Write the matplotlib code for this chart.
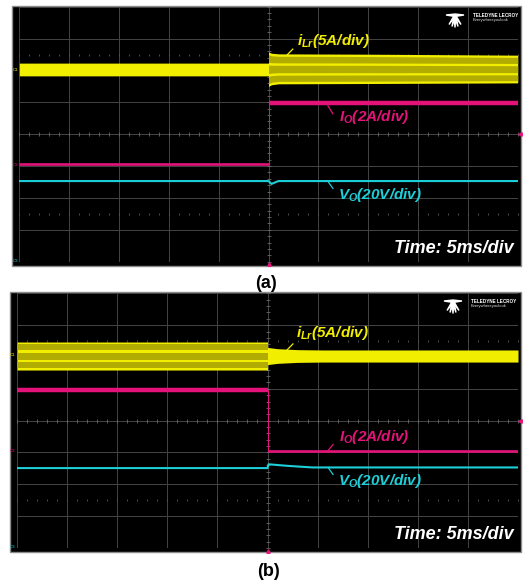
import matplotlib
matplotlib.use("Agg")
import matplotlib.pyplot as plt
from matplotlib.patches import Rectangle, Polygon
import numpy as np

plt.rcParams['font.family'] = ['Liberation Sans', 'DejaVu Sans']
plt.rcParams['mathtext.fontset'] = 'custom'
plt.rcParams['mathtext.it'] = 'Liberation Sans:italic:bold'
plt.rcParams['mathtext.rm'] = 'Liberation Sans:bold:italic'
plt.rcParams['mathtext.bf'] = 'Liberation Sans:bold:italic'

# ---------------- data (time in ms, amplitude in screen divisions) -------------
time_per_div = 5          # ms/div
n_xdiv = 10
n_ydiv = 8
step_time = 25.0          # load step instant (ms)

panel_labels = ["(a)", "(b)"]
label_ilr = r"$i_{Lr}$(5A/div)"
label_io = r"$I_O$(2A/div)"
label_vo = r"$V_O$(20V/div)"
time_label = "Time: 5ms/div"

# Panel (a): light -> heavy load
a_ilr_t = [0.0, 25.0, 25.0, 25.3, 26.0, 35.0, 50.0]
a_ilr_top = [2.23, 2.23, 2.58, 2.54, 2.52, 2.51, 2.48]
a_ilr_bot = [1.83, 1.83, 1.50, 1.55, 1.58, 1.59, 1.61]
a_io_t = [0.0, 25.0, 25.0, 50.0]
a_io_v = [-0.92, -0.92, 0.97, 0.97]
a_vo_t = [0.0, 25.0, 25.3, 26.0, 50.0]
a_vo_v = [-1.47, -1.47, -1.56, -1.47, -1.47]

# Panel (b): heavy -> light load
b_ilr_t = [0.0, 25.0, 25.0, 26.0, 28.0, 30.5, 50.0]
b_ilr_top = [2.47, 2.47, 2.30, 2.26, 2.23, 2.22, 2.22]
b_ilr_bot = [1.59, 1.59, 1.76, 1.80, 1.83, 1.84, 1.84]
b_io_t = [0.0, 25.0, 25.0, 50.0]
b_io_v = [0.97, 0.97, -0.94, -0.94]
b_vo_t = [0.0, 25.0, 25.1, 27.0, 29.5, 50.0]
b_vo_v = [-1.49, -1.49, -1.37, -1.42, -1.47, -1.47]

# ---------------- styling -------------
W, H = 528, 581
YEL = '#f2ee00'
OLIVE = '#b2ac00'
MAG = '#e5127a'
CYAN = '#1ccfd8'
GRID = '#454545'

fig = plt.figure(figsize=(W / 100, H / 100), dpi=100)
fig.patch.set_facecolor('white')


def fx(x):
    return x / W


def fy(y):
    return 1 - y / H


def pxrect(x0, y0, x1, y1):
    return [fx(x0), fy(y1), (x1 - x0) / W, (y1 - y0) / H]


def draw_logo(x0, y0):
    # small Teledyne LeCroy badge (decoration), x0,y0 = top-left in pixels
    tr = fig.transFigure
    bar = [(x0, y0 + 4), (x0 + 9, y0 + 3), (x0 + 18, y0 + 4), (x0 + 9, y0 + 5.5)]
    fig.patches.append(Polygon([(fx(a), fy(b)) for a, b in bar], closed=True,
                               transform=tr, color='white', zorder=5))
    cx, cy = x0 + 9, y0 + 4.5
    for ex, ey in [(-6, 9), (-3, 11), (0, 12), (3, 11), (6, 9)]:
        tri = [(cx - 0.9, cy), (cx + 0.9, cy), (cx + ex, cy + ey)]
        fig.patches.append(Polygon([(fx(a), fy(b)) for a, b in tri], closed=True,
                                   transform=tr, color='white', zorder=5))
    fig.text(fx(x0 + 27), fy(y0 + 4.5), "TELEDYNE LECROY", color='white',
             fontsize=3.3, fontweight='bold', ha='left', va='center')
    fig.text(fx(x0 + 27), fy(y0 + 8.5), "Everywhereyoulook", color='#dddddd',
             fontsize=3.0, ha='left', va='center')


def draw_band(ax, t, top, bot, wide_mask):
    t = np.asarray(t, float)
    top = np.asarray(top, float)
    bot = np.asarray(bot, float)
    ax.fill_between(t, bot, top, color=YEL, lw=0, zorder=3)
    m = np.asarray(wide_mask)
    tt, tp, bt = t[m], top[m], bot[m]
    h = tp - bt
    for f0, f1 in [(0.08, 0.30), (0.38, 0.63), (0.71, 0.92)]:
        ax.fill_between(tt, tp - f1 * h, tp - f0 * h, color=OLIVE, lw=0, zorder=3.1)


def draw_panel(frame, grid, data, labels_pos, markers_y, logo_xy, plabel_xy, plabel):
    # black scope screen
    fig.patches.append(Rectangle((fx(frame[0]), fy(frame[3])),
                                 (frame[2] - frame[0]) / W, (frame[3] - frame[1]) / H,
                                 transform=fig.transFigure, facecolor='black',
                                 edgecolor='#8c8c8c', lw=1.0, zorder=-1))
    ax = fig.add_axes(pxrect(*grid))
    ax.set_facecolor('none')
    tmax = n_xdiv * time_per_div
    ax.set_xlim(0, tmax)
    ax.set_ylim(-n_ydiv / 2, n_ydiv / 2)
    ax.set_axis_off()
    # graticule
    for i in range(n_xdiv + 1):
        ax.axvline(i * time_per_div, color=GRID, lw=0.7, zorder=1)
    for j in range(-n_ydiv // 2, n_ydiv // 2 + 1):
        ax.axhline(j, color=GRID, lw=0.7, zorder=1)
    tk = np.arange(0, tmax + 0.01, time_per_div / 5)
    ax.plot(tk, np.zeros_like(tk), ls='none', marker='|', ms=3, mew=0.6,
            color='#6a6a6a', zorder=1.5)
    for yy in (2.5, -2.5):
        ax.plot(tk, np.full_like(tk, yy), ls='none', marker='|', ms=1.6, mew=0.6,
                color='#5a5a5a', zorder=1.5)
    yk = np.arange(-n_ydiv / 2, n_ydiv / 2 + 0.01, 0.2)
    ax.plot(np.full_like(yk, tmax / 2), yk, ls='none', marker='_', ms=3, mew=0.6,
            color='#6a6a6a', zorder=1.5)

    (ilr_t, ilr_top, ilr_bot, ilr_wide, io_t, io_v, io_lw, vo_t, vo_v) = data
    draw_band(ax, ilr_t, ilr_top, ilr_bot, ilr_wide)
    # output current: thin connector then segments with their own width
    ax.plot(io_t, io_v, color=MAG, lw=0.7, zorder=3)
    ax.plot(io_t[:2], io_v[:2], color=MAG, lw=io_lw[0], zorder=3.2,
            solid_capstyle='butt')
    ax.plot(io_t[2:], io_v[2:], color=MAG, lw=io_lw[1], zorder=3.2,
            solid_capstyle='butt')
    ax.plot(vo_t, vo_v, color=CYAN, lw=1.5, zorder=3.3)

    # labels with leader lines
    for (txt, col, (lx, ly), (x0, y0, x1, y1)) in labels_pos:
        ax.text(lx, ly, txt, color=col, fontsize=11, fontweight='bold',
                style='italic', ha='left', va='center', zorder=6)
        ax.plot([x0, x1], [y0, y1], color=col, lw=0.9, zorder=6)
    ax.text(49.6, -3.58, time_label, color='white', fontsize=13,
            fontweight='bold', style='italic', ha='right', va='center', zorder=6)

    # trigger markers
    ax.plot([tmax / 2], [-4.08], marker='^', ms=2.5, color=MAG, clip_on=False,
            zorder=6, ls='none')
    ax.plot([tmax + 0.2], [0], marker='<', ms=2.5, color=MAG, clip_on=False,
            zorder=6, ls='none')
    # channel offset markers
    for (ym, col, name) in markers_y:
        fig.text(fx(grid[0] - 4), fy(ym), name, color=col, fontsize=3.2,
                 ha='center', va='center')
    draw_logo(*logo_xy)
    fig.text(fx(plabel_xy[0]), fy(plabel_xy[1]), plabel, color='black',
             fontsize=13, fontweight='bold', ha='center', va='center')
    return ax


data_a = (a_ilr_t, a_ilr_top, a_ilr_bot,
          [t >= step_time and i >= 2 for i, t in enumerate(a_ilr_t)],
          a_io_t, a_io_v, (1.9, 3.2), a_vo_t, a_vo_v)
labels_a = [
    (label_ilr, YEL, (27.86, 2.92), (27.44, 2.67, 26.84, 2.48)),
    (label_io, MAG, (32.07, 0.55), (31.46, 0.64, 30.96, 0.89)),
    (label_vo, CYAN, (31.97, -1.92), (31.46, -1.70, 30.96, -1.48)),
]
draw_panel((12, 6, 521, 266), (19.3, 6.7, 517.7, 261.7), data_a, labels_a,
           [(70, YEL, 'C1'), (165, MAG, 'C2'), (261, CYAN, 'C3')],
           (446, 11), (266, 283), panel_labels[0])

data_b = (b_ilr_t, b_ilr_top, b_ilr_bot,
          [i <= 1 for i, t in enumerate(b_ilr_t)],
          b_io_t, b_io_v, (3.2, 1.9), b_vo_t, b_vo_v)
labels_b = [
    (label_ilr, YEL, (27.84, 2.75), (27.54, 2.41, 26.95, 2.22)),
    (label_io, MAG, (32.14, -0.50), (31.54, -0.75, 31.04, -0.94)),
    (label_vo, CYAN, (32.04, -1.91), (31.54, -1.69, 31.04, -1.47)),
]
draw_panel((10, 292, 521, 552), (17, 293.3, 518, 548), data_b, labels_b,
           [(355, YEL, 'C1'), (451, MAG, 'C2'), (547, CYAN, 'C3')],
           (444, 297), (268, 571), panel_labels[1])

fig.savefig("out.png", dpi=100, facecolor='white')
